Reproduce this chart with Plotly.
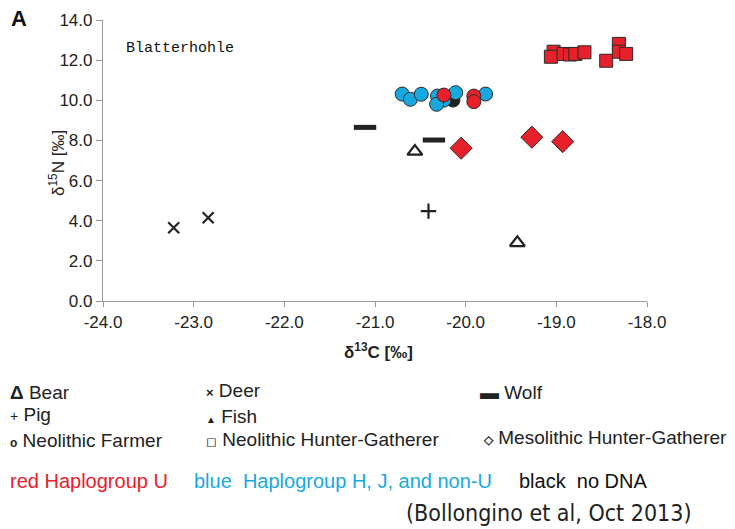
import plotly.graph_objects as go

# ---- data ----
bear_x = [-20.56, -19.43]
bear_y = [7.45, 2.90]
deer_x = [-23.22, -22.84]
deer_y = [3.65, 4.15]
wolf_x = [-21.11, -20.35]
wolf_y = [8.65, 8.02]
pig_x = [-20.41]
pig_y = [4.48]

farmer_black_x = [-20.14]
farmer_black_y = [10.01]
farmer_blue_x = [-20.70, -20.61, -20.49, -20.31, -20.24, -20.11, -20.32, -19.78]
farmer_blue_y = [10.31, 10.05, 10.30, 10.21, 10.01, 10.38, 9.80, 10.31]
farmer_red_x = [-20.24, -19.91, -19.91]
farmer_red_y = [10.26, 10.21, 9.93]

nhg_red_x = [-19.03, -19.06, -18.92, -18.85, -18.79, -18.69, -18.45, -18.31, -18.31, -18.23]
nhg_red_y = [12.42, 12.17, 12.31, 12.28, 12.31, 12.39, 11.97, 12.81, 12.42, 12.31]

mhg_red_x = [-20.05, -19.27, -18.93]
mhg_red_y = [7.61, 8.16, 7.94]

x_ticks = [-24.0, -23.0, -22.0, -21.0, -20.0, -19.0, -18.0]
y_ticks = [0.0, 2.0, 4.0, 6.0, 8.0, 10.0, 12.0, 14.0]

RED = "#e8202a"
BLUE = "#18a8e0"
BLACK = "#222222"
EDGE = "#2a2a2a"

fig = go.Figure()

def add(x, y, symbol, size, color, lw=1, lc=EDGE):
    fig.add_trace(go.Scatter(x=x, y=y, mode="markers", showlegend=False,
                             marker=dict(symbol=symbol, size=size, color=color,
                                         line=dict(width=lw, color=lc))))

add(deer_x, deer_y, "x-thin", 11, BLACK, 2.2, BLACK)
add(pig_x, pig_y, "cross-thin", 11, BLACK, 2.2, BLACK)
add(wolf_x, wolf_y, "line-ew", 16, BLACK, 5, BLACK)
add(bear_x, bear_y, "triangle-up-open", 13, BLACK, 2.2, BLACK)
add(farmer_black_x, farmer_black_y, "circle", 14, BLACK)
add(farmer_blue_x, farmer_blue_y, "circle", 14, BLUE)
add(farmer_red_x, farmer_red_y, "circle", 14, RED)
add(nhg_red_x, nhg_red_y, "square", 13, RED)
add(mhg_red_x, mhg_red_y, "diamond", 17, RED)

W, H = 735, 529
L, R, T, B = 103, 647, 20, 301

def px(x):
    return (x - L) / (R - L)

def py(y):
    return (B - y) / (B - T)

ann = []
def txt(text, x, y, size=19, color="#222", family="Liberation Sans, Arial, sans-serif",
        xanchor="left", angle=0):
    ann.append(dict(text=text, x=px(x), y=py(y), xref="paper", yref="paper",
                    showarrow=False, xanchor=xanchor, yanchor="middle", textangle=angle,
                    font=dict(size=size, color=color, family=family)))

txt("<b>A</b>", 9, 18, size=22, color="#111")
txt("Blatterhohle", 124, 48, size=15, color="#111", family="Liberation Mono, monospace")

# axis titles
txt("δ<sup>15</sup>N [‰]", 57, 163, size=17, xanchor="center", angle=-90)
txt("<b>δ<sup>13</sup>C [‰]</b>", 378, 351, size=17, xanchor="center")

txt("<b>Δ</b> Bear", 8, 392)
txt("<span style='font-size:13px'><b>×</b></span> Deer", 204, 390)
txt("<b>▬</b> Wolf", 478, 392)
txt("<span style='font-size:14px'>+</span> Pig", 8, 414)
txt("<span style='font-size:10px'>▲</span> Fish", 204, 416)
txt("<span style='font-size:12px'><b>o</b></span> Neolithic Farmer", 8, 440)
txt("<span style='font-size:13px'>◻</span> Neolithic Hunter-Gatherer", 204, 439)
txt("<span style='font-size:12px'><b>◇</b></span> Mesolithic Hunter-Gatherer", 481, 438)

txt("red Haplogroup U", 8, 481, size=20, color=RED)
txt("blue  Haplogroup H, J, and non-U", 192, 481, size=20, color=BLUE)
txt("black  no DNA", 517, 481, size=20, color="#111")
txt("(Bollongino et al, Oct 2013)", 404, 513, size=23, color="#222",
    family="DejaVu Sans Condensed, DejaVu Sans, sans-serif")

fig.update_layout(
    width=W, height=H,
    margin=dict(l=L, r=W - R, t=T, b=H - B, pad=0),
    paper_bgcolor="white", plot_bgcolor="white",
    annotations=ann,
    font=dict(family="Liberation Sans, Arial, sans-serif", color="#222"),
    xaxis=dict(range=[-24, -18], tickvals=x_ticks, ticktext=[f"{v:.1f}" for v in x_ticks],
               showgrid=False, zeroline=False, showline=True, linecolor="#9a9a9a", linewidth=1.2,
               ticks="outside", ticklen=5, tickcolor="#9a9a9a", tickfont=dict(size=17, color="#222")),
    yaxis=dict(range=[0, 14], tickvals=y_ticks, ticktext=[f"{v:.1f}" for v in y_ticks],
               showgrid=False, zeroline=False, showline=True, linecolor="#9a9a9a", linewidth=1.2,
               ticks="outside", ticklen=6, tickcolor="#9a9a9a", tickfont=dict(size=17, color="#222")),
)

fig.write_html("out.html")
